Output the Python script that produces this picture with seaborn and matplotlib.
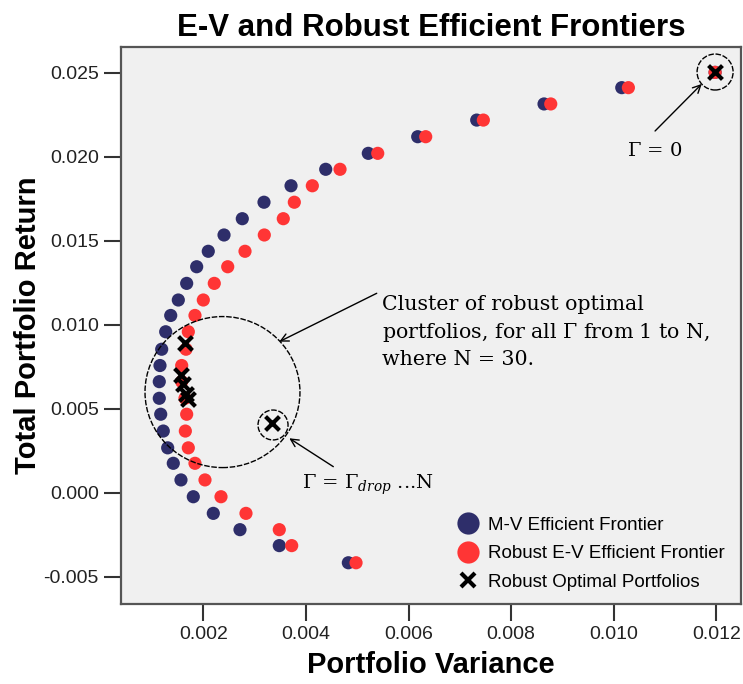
import matplotlib
matplotlib.use("Agg")
import matplotlib.pyplot as plt
import seaborn as sns
import pandas as pd
from matplotlib.patches import Ellipse
from matplotlib.lines import Line2D

# ---- data ----
target_return = [0.02502, 0.02411, 0.02314, 0.02218, 0.02119, 0.02020, 0.01925,
                 0.01827, 0.01729, 0.01631, 0.01534, 0.01437, 0.01345, 0.01246,
                 0.01147, 0.01055, 0.00958, 0.00854, 0.00757, 0.00661, 0.00562,
                 0.00467, 0.00367, 0.00267, 0.00175, 0.00076, -0.00024, -0.00123,
                 -0.00220, -0.00315, -0.00417]
mv_variance = [0.011975, 0.010156, 0.008641, 0.007329, 0.006179, 0.005216, 0.004386,
               0.003710, 0.003183, 0.002760, 0.002404, 0.002097, 0.001871, 0.001676,
               0.001513, 0.001365, 0.001267, 0.001189, 0.001156, 0.001142, 0.001142,
               0.001170, 0.001220, 0.001306, 0.001415, 0.001565, 0.001805, 0.002195,
               0.002715, 0.003481, 0.004827]
robust_variance = [0.011975, 0.010285, 0.008772, 0.007458, 0.006335, 0.005400, 0.004665,
                   0.004125, 0.003774, 0.003559, 0.003189, 0.002813, 0.002476, 0.002214,
                   0.002000, 0.001838, 0.001708, 0.001663, 0.001579, 0.001579, 0.001643,
                   0.001676, 0.001650, 0.001708, 0.001838, 0.002033, 0.002345, 0.002832,
                   0.003481, 0.003723, 0.004977]
opt_variance = [0.011975, 0.001643, 0.001565, 0.001600, 0.001660, 0.001700, 0.003340]
opt_return = [0.02502, 0.00889, 0.00701, 0.00650, 0.00590, 0.00560, 0.00413]

xticks = [0.002, 0.004, 0.006, 0.008, 0.010, 0.012]
yticks = [-0.005, 0.000, 0.005, 0.010, 0.015, 0.020, 0.025]
labels = ["M-V Efficient Frontier", "Robust E-V Efficient Frontier",
          "Robust Optimal Portfolios"]

BLUE = "#2e2e6a"
RED = "#ff3535"

sns.set_theme(style="white")
plt.rcParams["font.family"] = ["Liberation Sans", "DejaVu Sans"]
plt.rcParams["mathtext.fontset"] = "dejavuserif"
plt.rcParams["text.color"] = "black"
plt.rcParams["axes.labelcolor"] = "black"

fig = plt.figure(figsize=(7.43, 6.84), dpi=100)
ax = fig.add_axes([121 / 743, 80 / 684, 620 / 743, 557 / 684])
ax.set_facecolor("#f0f0f0")

mv = pd.DataFrame({"var": mv_variance, "ret": target_return})
rb = pd.DataFrame({"var": robust_variance, "ret": target_return})
op = pd.DataFrame({"var": opt_variance, "ret": opt_return})

sns.scatterplot(data=mv, x="var", y="ret", ax=ax, color=BLUE, s=90,
                edgecolor="none", zorder=3, legend=False)
sns.scatterplot(data=rb, x="var", y="ret", ax=ax, color=RED, s=90,
                edgecolor="none", zorder=4, legend=False)
sns.scatterplot(data=op, x="var", y="ret", ax=ax, marker="x", color="black",
                s=100, linewidth=3, zorder=5, legend=False)

ax.set_xlim(0.000396, 0.01248)
ax.set_ylim(-0.006625, 0.02653)
ax.set_xticks(xticks)
ax.set_xticklabels([f"{t:.3f}" for t in xticks])
ax.set_yticks(yticks)
ax.set_yticklabels([f"{t:.3f}" for t in yticks])
ax.tick_params(axis="both", direction="out", length=12, width=1.5,
               color="#333333", labelsize=14, labelcolor="#222222", pad=4,
               bottom=True, left=True)
for sp in ax.spines.values():
    sp.set_color("#555555")
    sp.set_linewidth(1.6)

ax.set_xlabel("Portfolio Variance", fontsize=21, fontweight="bold")
ax.set_ylabel("Total Portfolio Return", fontsize=21, fontweight="bold")
ax.xaxis.set_label_coords(0.5, -0.085)
ax.yaxis.set_label_coords(-0.128, 0.5)
ax.set_title("E-V and Robust Efficient Frontiers", fontsize=22.5,
             fontweight="bold", pad=8, color="black")

# ---- annotations ----
circ_kw = dict(fill=False, edgecolor="black", linewidth=1.0,
               linestyle=(0, (4, 1.2)), zorder=6)
ax.add_patch(Ellipse((0.002374, 0.00599), 0.00302, 0.00899, **circ_kw))
ax.add_patch(Ellipse((0.003359, 0.00403), 0.000585, 0.00178, **circ_kw))
ax.add_patch(Ellipse((0.011975, 0.02504), 0.000702, 0.00214, **circ_kw))

serif = ["DejaVu Serif"]
arrow_kw = dict(arrowstyle="->", lw=1.0, color="black",
                shrinkA=0, shrinkB=0, mutation_scale=14)

ax.annotate("", xy=(0.011715, 0.02433), xytext=(0.010805, 0.02153),
            arrowprops=arrow_kw, zorder=7)
ax.text(0.010805, 0.02034, r"$\Gamma$ = 0", family=serif, fontsize=14,
        ha="center", va="center")

ax.annotate("", xy=(0.003481, 0.00899), xytext=(0.005380, 0.01187),
            arrowprops=arrow_kw, zorder=7)
ax.text(0.005478, 0.00957,
        "Cluster of robust optimal\nportfolios, for all $\\Gamma$ from 1 to N,\nwhere N = 30.",
        family=serif, fontsize=14.8, ha="left", va="center", linespacing=1.38)

ax.annotate("", xy=(0.003676, 0.00324), xytext=(0.004534, 0.00155),
            arrowprops=arrow_kw, zorder=7)
ax.text(0.003918, 0.00046, r"$\Gamma$ = $\Gamma_{drop}$ ...N", family=serif,
        fontsize=14, ha="left", va="center")

# ---- legend ----
handles = [
    Line2D([], [], linestyle="none", marker="o", markersize=16,
           markerfacecolor=BLUE, markeredgecolor="none"),
    Line2D([], [], linestyle="none", marker="o", markersize=16,
           markerfacecolor=RED, markeredgecolor="none"),
    Line2D([], [], linestyle="none", marker="x", markersize=10,
           markeredgewidth=3, color="black"),
]
ax.legend(handles, labels, loc="upper left", bbox_to_anchor=(0.525, 0.170),
          frameon=False, fontsize=13.5, handletextpad=0.3, labelspacing=0.6,
          borderaxespad=0, handlelength=1.5)

fig.savefig("out.png", dpi=100)
